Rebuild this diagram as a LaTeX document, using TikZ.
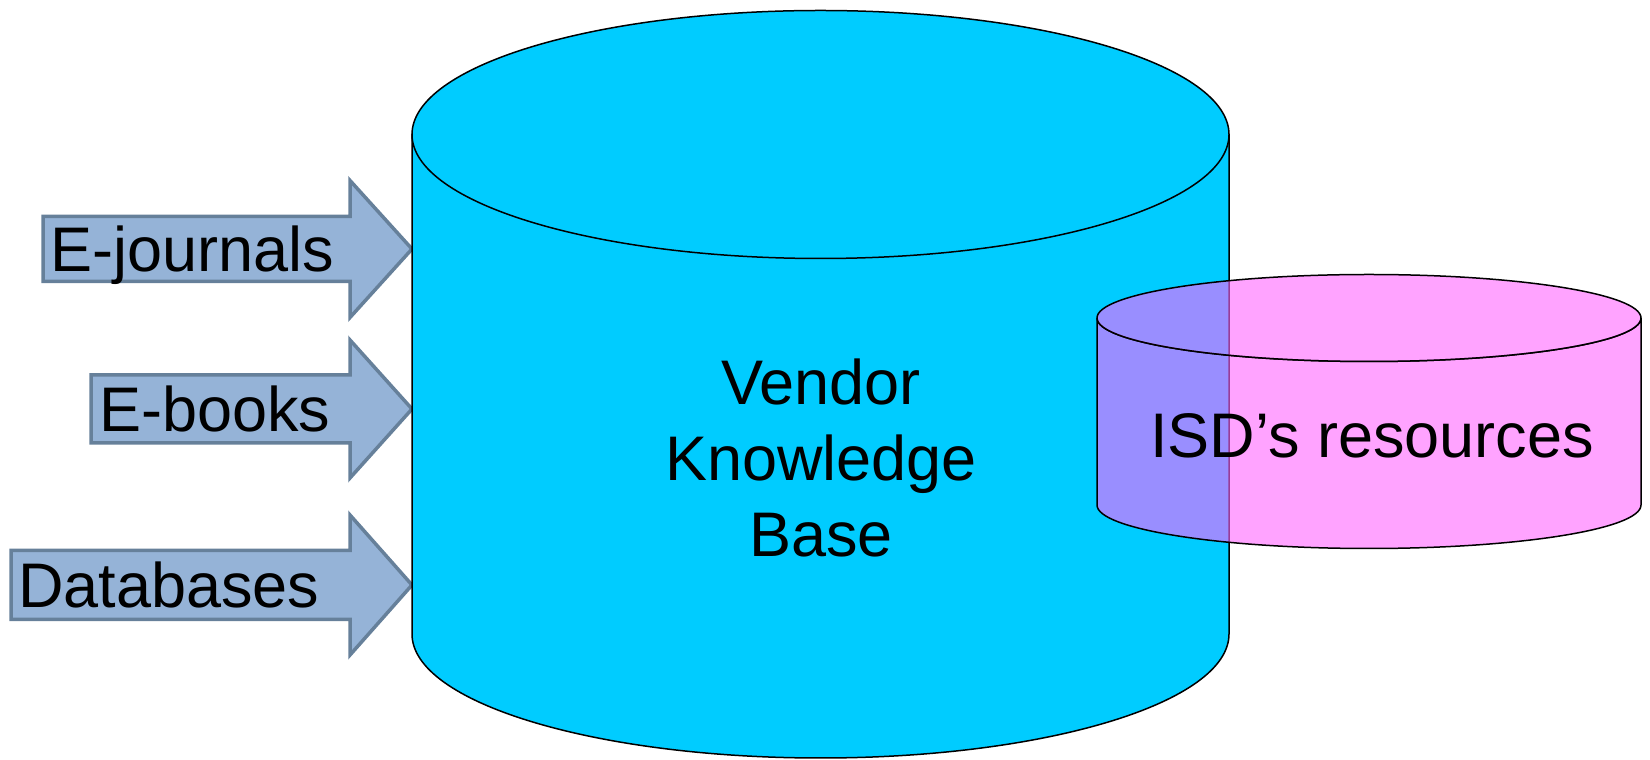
\documentclass[tikz,border=0pt]{standalone}
\usepackage{fontspec}
\setmainfont{Liberation Sans}
\definecolor{arrowfill}{HTML}{95B3D7}
\definecolor{arrowline}{HTML}{66809A}
\definecolor{cylblue}{HTML}{00CCFF}
\definecolor{cylpink}{HTML}{FF66FF}
\begin{document}
\begin{tikzpicture}[x=1pt,y=1pt,
  cylline/.style={draw=black,line width=1.5pt},
  arrowshape/.style={fill=arrowfill,draw=arrowline,line width=3.5pt,line join=miter},
  lbl/.style={font=\fontsize{63}{76}\selectfont,inner sep=0pt,text=black}]
\useasboundingbox (0,0) rectangle (1650,760);
% arrows
\draw[arrowshape] (43,543.5) -- (350,543.5) -- (350,579.5) -- (412,511) -- (350,442.5) -- (350,478.5) -- (43,478.5) -- cycle;
\draw[arrowshape] (91,385) -- (350,385) -- (350,420) -- (412,351) -- (350,282) -- (350,317) -- (91,317) -- cycle;
\draw[arrowshape] (11,209.5) -- (350,209.5) -- (350,245) -- (412,175) -- (350,105) -- (350,140.5) -- (11,140.5) -- cycle;
\node[lbl,anchor=base west] (ej) at (50,488) {E-journals};
\node[lbl,anchor=base west] (eb) at (99,328) {E-books};
\node[lbl,anchor=base west] (db) at (18,152) {Databases};
% big cylinder
\path[fill=cylblue,cylline] (412,625.5) -- (412,126) arc[start angle=180,end angle=360,x radius=408.5pt,y radius=124pt] -- (1229,625.5) -- cycle;
\path[fill=cylblue,cylline] (820.5,625.5) ellipse [x radius=408.5pt,y radius=124pt];
% pink cylinder
\path[fill=cylpink,fill opacity=0.6,cylline] (1097,442) -- (1097,255) arc[start angle=180,end angle=360,x radius=272pt,y radius=43.5pt] -- (1641,442) arc[start angle=0,end angle=-180,x radius=272pt,y radius=43.5pt] -- cycle;
\path[fill=cylpink,fill opacity=0.6,cylline] (1369,442) ellipse [x radius=272pt,y radius=43.5pt];
% texts
\node[lbl,anchor=base] (v1) at (821,355) {Vendor};
\node[lbl,anchor=base] (v2) at (821,279) {Knowledge};
\node[lbl,anchor=base] (v3) at (821,203) {Base};
\node[lbl,anchor=base] (isd) at (1372,302) {ISD’s resources};
\end{tikzpicture}
\end{document}
